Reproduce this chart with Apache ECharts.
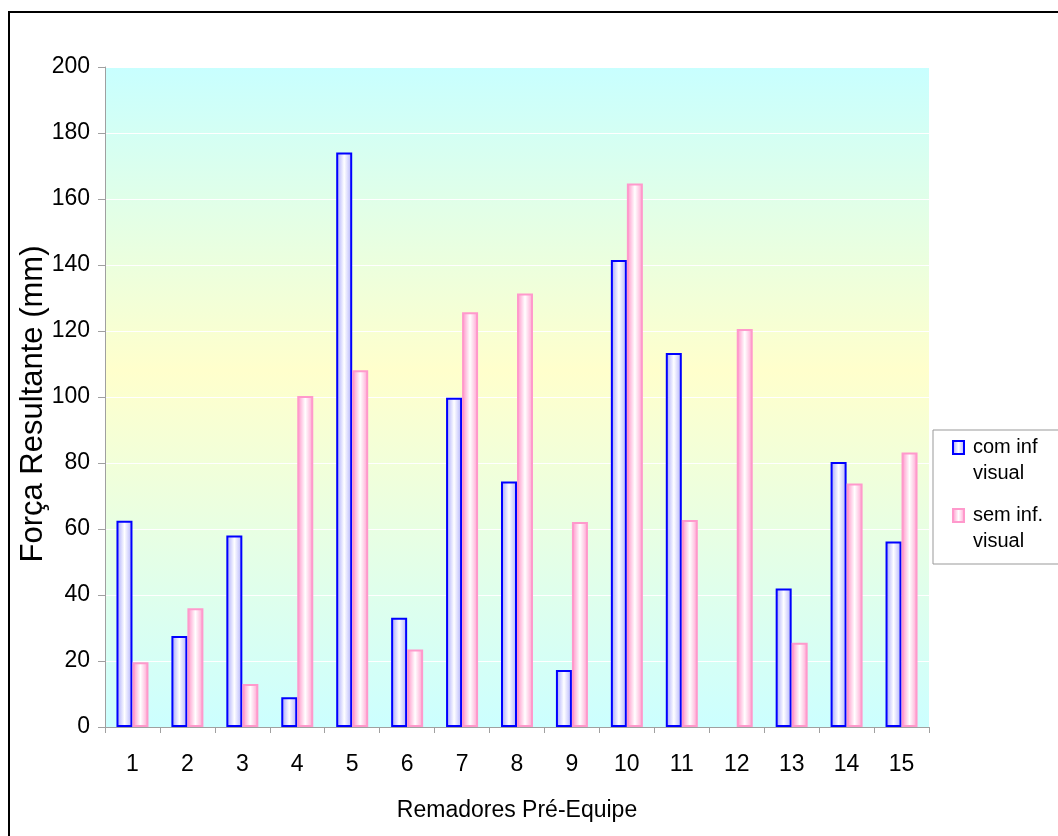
<!DOCTYPE html>
<html>
<head>
<meta charset="utf-8">
<title>Força Resultante</title>
<script src="https://cdn.jsdelivr.net/npm/echarts@6/dist/echarts.min.js"></script>
<style>
  html, body { margin: 0; padding: 0; background: #ffffff; }
  #chart { width: 1058px; height: 836px; }
</style>
</head>
<body>
<div id="chart"></div>
<script>
// Rowers of the pre-team squad
const categories = ['1', '2', '3', '4', '5', '6', '7', '8', '9', '10', '11', '12', '13', '14', '15'];

// Resultant force (mm) with visual feedback
const comInfVisual = [62.5, 27.6, 58.0, 9.0, 174.1, 33.1, 99.8, 74.4, 17.3, 141.5, 113.3, null, 42.0, 80.3, 56.2];

// Resultant force (mm) without visual feedback
const semInfVisual = [19.6, 36.0, 13.0, 100.3, 108.1, 23.5, 125.7, 131.4, 62.1, 164.7, 62.7, 120.6, 25.5, 73.8, 83.2];

const yTicks = { min: 0, max: 200, interval: 20 };

const FONT = "'Liberation Sans', Arial, sans-serif";

// Legend swatch: small square at the top of a taller box so it sits beside the first text line
const swatchPath = 'path://M0,0L11,0L11,13L0,13Z M0,38L0,38';

const blueFill = {
  type: 'linear', x: 0, y: 0, x2: 1, y2: 0,
  colorStops: [
    { offset: 0, color: '#a4a4ee' },
    { offset: 0.25, color: '#cfcffd' },
    { offset: 0.5, color: '#ffffff' },
    { offset: 0.75, color: '#d6d6fe' },
    { offset: 1, color: '#aeaef2' }
  ]
};
const pinkFill = {
  type: 'linear', x: 0, y: 0, x2: 1, y2: 0,
  colorStops: [
    { offset: 0, color: '#ff8ec6' },
    { offset: 0.25, color: '#ffc6e2' },
    { offset: 0.5, color: '#ffffff' },
    { offset: 0.75, color: '#ffcfe7' },
    { offset: 1, color: '#ff9ccc' }
  ]
};

const chart = echarts.init(document.getElementById('chart'), null, { renderer: 'canvas' });

chart.setOption({
  animation: false,
  backgroundColor: '#ffffff',
  textStyle: { fontFamily: FONT },
  graphic: [{
    type: 'rect',
    shape: { x: 9, y: 12, width: 1100, height: 900 },
    style: { fill: 'none', stroke: '#000000', lineWidth: 2 },
    silent: true, z: 100
  }],
  grid: {
    left: 105, right: 129, top: 67, bottom: 109,
    show: true,
    borderWidth: 0,
    backgroundColor: {
      type: 'linear', x: 0, y: 0, x2: 0, y2: 1,
      colorStops: [
        { offset: 0, color: '#c8ffff' },
        { offset: 0.46, color: '#ffffcc' },
        { offset: 1, color: '#ccffff' }
      ]
    }
  },
  legend: {
    orient: 'vertical',
    left: 933, top: 430,
    padding: [4, 16, 10, 19],
    borderColor: '#999999',
    borderWidth: 1,
    backgroundColor: '#ffffff',
    itemWidth: 11,
    itemHeight: 38,
    itemGap: 16,
    textStyle: {
      fontFamily: FONT, fontSize: 20, color: '#000000',
      lineHeight: 26, padding: [0, 0, 0, 4]
    },
    formatter: function (name) { return name.replace(' visual', '\nvisual'); },
    data: [
      { name: 'com inf visual', icon: swatchPath },
      { name: 'sem inf. visual', icon: swatchPath }
    ]
  },
  xAxis: {
    type: 'category',
    data: categories,
    boundaryGap: true,
    name: 'Remadores Pré-Equipe',
    nameLocation: 'middle',
    nameGap: 72,
    nameTextStyle: { fontFamily: FONT, fontSize: 23, color: '#000000' },
    axisLine: { lineStyle: { color: '#a0a0a0', width: 1 } },
    axisTick: { show: true, length: 6, alignWithLabel: false, lineStyle: { color: '#a0a0a0' } },
    axisLabel: { fontFamily: FONT, fontSize: 23, color: '#000000', margin: 26 },
    splitLine: { show: false }
  },
  yAxis: {
    type: 'value',
    min: yTicks.min,
    max: yTicks.max,
    interval: yTicks.interval,
    name: 'Força Resultante (mm)',
    nameLocation: 'middle',
    nameGap: 56,
    nameMoveOverlap: false,
    nameTextStyle: { fontFamily: FONT, fontSize: 31, color: '#000000', padding: [0, 14, 0, 0] },
    axisLine: { show: true, lineStyle: { color: '#a0a0a0', width: 1 } },
    axisTick: { show: true, length: 7, lineStyle: { color: '#a0a0a0' } },
    axisLabel: { fontFamily: FONT, fontSize: 23, color: '#000000', margin: 15 },
    splitLine: { show: true, lineStyle: { color: '#ffffff', width: 1 } }
  },
  series: [
    {
      name: 'com inf visual',
      type: 'bar',
      data: comInfVisual,
      barWidth: 16,
      barGap: '0%',
      itemStyle: { color: blueFill, borderColor: '#0000ff', borderWidth: 2 }
    },
    {
      name: 'sem inf. visual',
      type: 'bar',
      data: semInfVisual,
      barWidth: 16,
      barGap: '0%',
      itemStyle: { color: pinkFill, borderColor: '#ff99cc', borderWidth: 2 }
    }
  ]
});
</script>
</body>
</html>
